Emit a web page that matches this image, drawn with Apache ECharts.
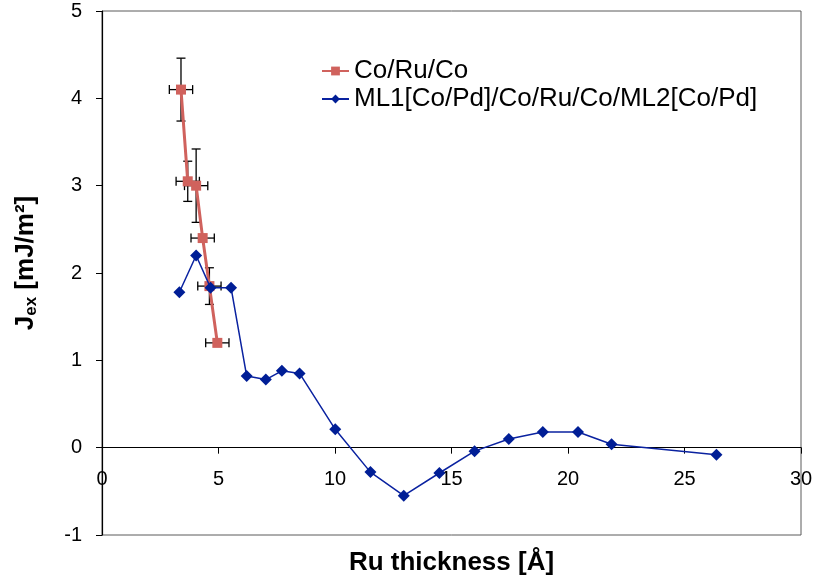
<!DOCTYPE html>
<html>
<head>
<meta charset="utf-8">
<script src="https://cdn.jsdelivr.net/npm/echarts@6/dist/echarts.min.js"></script>
<style>html,body{margin:0;padding:0;background:#fff;}#c{width:814px;height:582px;}</style>
</head>
<body>
<div id="c"></div>
<script>
// Co/Ru/Co series
const xCoRu = [3.39, 3.68, 4.04, 4.32, 4.61, 4.95];
const yCoRu = [4.10, 3.05, 3.00, 2.40, 1.85, 1.20];
const xErrCoRu = [0.5, 0.5, 0.5, 0.5, 0.5, 0.5];
const yErrCoRu = [0.36, 0.23, 0.42, 0, 0.21, 0];

// ML1[Co/Pd]/Co/Ru/Co/ML2[Co/Pd] series
const xML = [3.32, 4.04, 4.66, 5.54, 6.21, 7.03, 7.72, 8.48, 10.01, 11.52, 12.95, 14.48, 15.99, 17.46, 18.92, 20.43, 21.87, 26.37];
const yML = [1.78, 2.20, 1.83, 1.83, 0.82, 0.78, 0.88, 0.85, 0.21, -0.28, -0.55, -0.29, -0.04, 0.10, 0.18, 0.18, 0.04, -0.08];

const seriesNames = ['Co/Ru/Co', 'ML1[Co/Pd]/Co/Ru/Co/ML2[Co/Pd]'];
const xTicks = { min: 0, max: 30, interval: 5 };
const yTicks = { min: -1, max: 5, interval: 1 };

const FONT = '"Liberation Sans", Arial, sans-serif';
const chart = echarts.init(document.getElementById('c'));

const GRID_TOP = 11, GRID_BOTTOM = 47, H = 582;
const plotH = H - GRID_TOP - GRID_BOTTOM;
// distance of the y=0 line above the plot bottom (x axis crosses at 0)
const zeroOffset = plotH * (0 - yTicks.min) / (yTicks.max - yTicks.min);

const errData = xCoRu.map((x, i) => [x, yCoRu[i], xErrCoRu[i], yErrCoRu[i]]);

const option = {
  animation: false,
  backgroundColor: '#fff',
  textStyle: { fontFamily: FONT },
  grid: { left: 102, right: 13, top: GRID_TOP, bottom: GRID_BOTTOM, outerBoundsMode: 'none', containLabel: false, show: true, borderColor: '#5a5a5a', borderWidth: 1, backgroundColor: 'transparent' },
  legend: {
    data: seriesNames,
    orient: 'vertical',
    left: 316,
    top: 53,
    itemWidth: 27,
    itemHeight: 11,
    itemGap: 2,
    textStyle: { fontFamily: FONT, fontSize: 26, color: '#000' }
  },
  xAxis: {
    type: 'value',
    position: 'bottom',
    offset: -zeroOffset,
    min: xTicks.min, max: xTicks.max, interval: xTicks.interval,
    name: 'Ru thickness [Å]',
    nameLocation: 'middle',
    nameGap: 102,
    nameTextStyle: { fontFamily: FONT, fontSize: 26, fontWeight: 'bold', color: '#000' },
    axisLine: { onZero: false, lineStyle: { color: '#000', width: 1.2 } },
    axisTick: { show: true, inside: false, length: 6, lineStyle: { color: '#000' } },
    axisLabel: { fontFamily: FONT, fontSize: 20, color: '#000', margin: 22 },
    splitLine: { show: false }
  },
  yAxis: {
    type: 'value',
    min: yTicks.min, max: yTicks.max, interval: yTicks.interval,
    name: '{b|J}{s|ex}{b| [mJ/m²]}',
    nameLocation: 'middle',
    nameGap: 62,
    nameTextStyle: {
      padding: [0, 0, 0, 20],
      rich: {
        b: { fontFamily: FONT, fontSize: 26, fontWeight: 'bold', color: '#000' },
        s: { fontFamily: FONT, fontSize: 17, fontWeight: 'bold', color: '#000', verticalAlign: 'bottom', padding: [12, 0, 0, 0] }
      }
    },
    axisLine: { onZero: false, lineStyle: { color: '#000', width: 1.2 } },
    axisTick: { show: true, inside: false, length: 6, lineStyle: { color: '#000' } },
    axisLabel: { fontFamily: FONT, fontSize: 20, color: '#000', margin: 20 },
    splitLine: { show: false }
  },
  series: [
    {
      type: 'custom',
      name: 'errors',
      z: 1,
      data: errData,
      renderItem: function (params, api) {
        const x = api.value(0), y = api.value(1), ex = api.value(2), ey = api.value(3);
        const children = [];
        const st = { stroke: '#000', lineWidth: 1.3 };
        const cap = 4.5;
        if (ex > 0) {
          const l = api.coord([x - ex, y]), r = api.coord([x + ex, y]);
          children.push({ type: 'line', shape: { x1: l[0], y1: l[1], x2: r[0], y2: r[1] }, style: st });
          children.push({ type: 'line', shape: { x1: l[0], y1: l[1] - cap, x2: l[0], y2: l[1] + cap }, style: st });
          children.push({ type: 'line', shape: { x1: r[0], y1: r[1] - cap, x2: r[0], y2: r[1] + cap }, style: st });
        }
        if (ey > 0) {
          const t = api.coord([x, y + ey]), b = api.coord([x, y - ey]);
          children.push({ type: 'line', shape: { x1: t[0], y1: t[1], x2: b[0], y2: b[1] }, style: st });
          children.push({ type: 'line', shape: { x1: t[0] - cap, y1: t[1], x2: t[0] + cap, y2: t[1] }, style: st });
          children.push({ type: 'line', shape: { x1: b[0] - cap, y1: b[1], x2: b[0] + cap, y2: b[1] }, style: st });
        }
        return { type: 'group', children: children };
      },
      silent: true
    },
    {
      type: 'line',
      name: seriesNames[0],
      z: 2,
      data: xCoRu.map((x, i) => [x, yCoRu[i]]),
      symbol: 'rect',
      symbolSize: 10,
      showAllSymbol: true,
      lineStyle: { color: '#D0625D', width: 3 },
      itemStyle: { color: '#D0625D' }
    },
    {
      type: 'line',
      name: seriesNames[1],
      z: 3,
      data: xML.map((x, i) => [x, yML[i]]),
      symbol: 'diamond',
      symbolSize: 12,
      showAllSymbol: true,
      lineStyle: { color: '#0A22A0', width: 1.5 },
      itemStyle: { color: '#001E96' }
    }
  ]
};
chart.setOption(option);
</script>
</body>
</html>
